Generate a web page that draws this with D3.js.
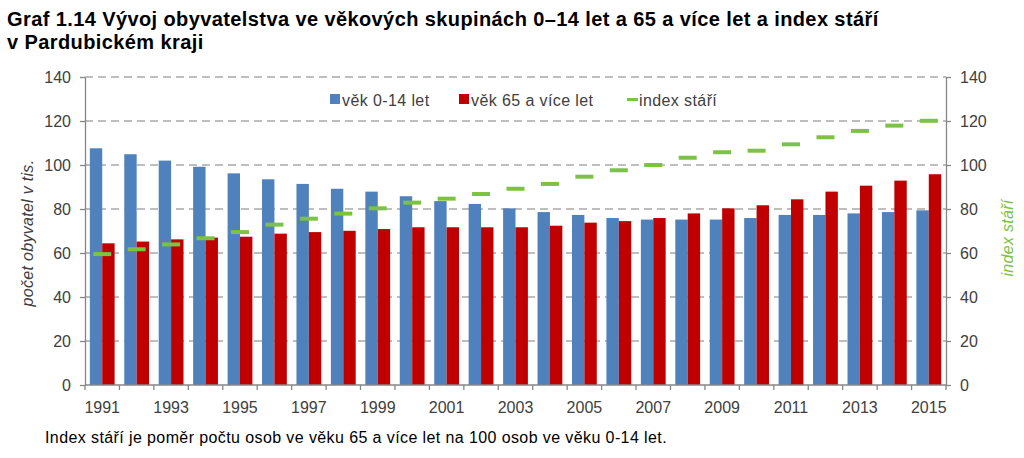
<!DOCTYPE html>
<html>
<head>
<meta charset="utf-8">
<script src="https://cdn.jsdelivr.net/npm/d3@7"></script>
<style>
  body { margin: 0; background: #fff; }
  svg { font-family: "Liberation Sans", Arial, sans-serif; }
</style>
</head>
<body>
<svg width="1024" height="458"></svg>
<script>
// Data
const years = d3.range(1991, 2016).map(String);
const kids = [107.6, 104.9, 102.0, 99.2, 96.2, 93.5, 91.4, 89.2, 87.9, 85.8, 83.6, 82.3, 80.3,
    78.6, 77.3, 75.9, 75.2, 75.2, 75.2, 75.9, 77.3, 77.3, 78.0, 78.6, 79.4];
const seniors = [64.4, 65.2, 66.2, 67.0, 67.4, 68.8, 69.5, 70.1, 70.9, 71.7, 71.7, 71.7, 71.7,
    72.4, 73.8, 74.5, 75.9, 78.0, 80.3, 81.7, 84.4, 87.9, 90.6, 92.9, 95.8];
const agingIndex = [59.5, 61.7, 63.9, 66.7, 69.5, 72.9, 75.6, 77.9, 80.3, 82.9, 84.7, 86.8, 89.2,
    91.4, 94.7, 97.6, 100.0, 103.3, 105.8, 106.5, 109.4, 112.6, 115.5, 117.9, 120.1];
const yTicks = [0, 20, 40, 60, 80, 100, 120, 140];

const blue = "#4f81bd", red = "#c00000", green = "#7cc243", grey = "#404040";

const svg = d3.select("svg");
const plotL = 85, plotR = 946, plotT = 77, plotB = 385;

const x = d3.scaleBand().domain(years).range([plotL, plotR]);
const y = d3.scaleLinear().domain([0, 140]).range([plotB, plotT]);
const y2 = d3.scaleLinear().domain([0, 140]).range([plotB, plotT]);

// Title
svg.append("text").attr("x", 7).attr("y", 26)
    .attr("font-size", 20).attr("font-weight", "bold").attr("fill", "#000")
    .attr("letter-spacing", 0.4)
    .text("Graf 1.14 Vývoj obyvatelstva ve věkových skupinách 0–14 let a 65 a více let a index stáří");
svg.append("text").attr("x", 7).attr("y", 49)
    .attr("font-size", 20).attr("font-weight", "bold").attr("fill", "#000")
    .attr("letter-spacing", 0.4)
    .text("v Pardubickém kraji");

// Gridlines
svg.append("g").selectAll("line").data(yTicks.filter(d => d > 0)).join("line")
    .attr("x1", plotL).attr("x2", plotR)
    .attr("y1", d => y(d)).attr("y2", d => y(d))
    .attr("stroke", "#7f7f7f").attr("stroke-width", 1.2)
    .attr("stroke-dasharray", "8,5");

// Bars
const bw = x.bandwidth() * 0.36;
const g = svg.append("g");
g.selectAll(".kids").data(kids).join("rect")
    .attr("x", (d, i) => x(years[i]) + x.bandwidth() / 2 - bw)
    .attr("y", d => y(d)).attr("width", bw).attr("height", d => plotB - y(d))
    .attr("fill", blue);
g.selectAll(".sen").data(seniors).join("rect")
    .attr("x", (d, i) => x(years[i]) + x.bandwidth() / 2)
    .attr("y", d => y(d)).attr("width", bw).attr("height", d => plotB - y(d))
    .attr("fill", red);

// Index markers
g.selectAll(".idx").data(agingIndex).join("rect")
    .attr("x", (d, i) => x(years[i]) + x.bandwidth() / 2 - 9)
    .attr("y", d => y2(d) - 2).attr("width", 18).attr("height", 4)
    .attr("fill", green);

// Axes
const axisStyle = sel => {
    sel.select(".domain").attr("stroke", "#868686").attr("stroke-width", 1.3);
    sel.selectAll(".tick line").attr("stroke", "#868686").attr("stroke-width", 1.3);
    sel.selectAll(".tick text").attr("fill", grey).attr("font-size", 16)
        .attr("font-family", "Liberation Sans, Arial, sans-serif");
};
svg.append("g").attr("transform", `translate(${plotL},0)`)
    .call(d3.axisLeft(y).tickValues(yTicks).tickSize(5).tickSizeOuter(0).tickPadding(9))
    .call(axisStyle);
svg.append("g").attr("transform", `translate(${plotR},0)`)
    .call(d3.axisRight(y2).tickValues(yTicks).tickSize(5).tickSizeOuter(0).tickPadding(9))
    .call(axisStyle);

// X axis: ticks between categories, labels every 2 years
const xg = svg.append("g").attr("transform", `translate(0,${plotB})`);
xg.append("line").attr("x1", plotL).attr("x2", plotR)
    .attr("stroke", "#868686").attr("stroke-width", 1.3);
xg.selectAll(".xt").data(years.concat("end")).join("line")
    .attr("x1", (d, i) => plotL + i * x.step()).attr("x2", (d, i) => plotL + i * x.step())
    .attr("y1", 0).attr("y2", 5)
    .attr("stroke", "#868686").attr("stroke-width", 1.3);
xg.selectAll("text").data(years.filter((d, i) => i % 2 === 0)).join("text")
    .attr("x", d => x(d) + x.bandwidth() / 2).attr("y", 28)
    .attr("text-anchor", "middle").attr("font-size", 16).attr("fill", grey)
    .text(d => d);

// Axis titles
svg.append("text")
    .attr("transform", `translate(33,233) rotate(-90)`)
    .attr("text-anchor", "middle").attr("font-size", 16).attr("font-style", "italic")
    .attr("letter-spacing", 0.3)
    .attr("fill", grey).text("počet obyvatel v tis.");
svg.append("text")
    .attr("transform", `translate(1013,238) rotate(-90)`)
    .attr("text-anchor", "middle").attr("font-size", 16).attr("font-style", "italic")
    .attr("letter-spacing", 0.3)
    .attr("fill", green).text("index stáří");

// Legend
const legend = [
    {label: "věk 0-14 let", color: blue, type: "box", x: 330},
    {label: "věk 65 a více let", color: red, type: "box", x: 459},
    {label: "index stáří", color: green, type: "dash", x: 627}
];
const lg = svg.append("g").attr("transform", "translate(0,100)");
legend.forEach(d => {
    if (d.type === "box") {
        lg.append("rect").attr("x", d.x).attr("y", -6).attr("width", 10).attr("height", 10).attr("fill", d.color);
    } else {
        lg.append("rect").attr("x", d.x).attr("y", -2).attr("width", 11).attr("height", 3).attr("fill", d.color);
    }
    lg.append("text").attr("x", d.x + 12).attr("y", 6)
        .attr("font-size", 16).attr("letter-spacing", 0.4)
        .attr("fill", grey).text(d.label);
});

// Footnote
svg.append("text").attr("x", 45).attr("y", 443)
    .attr("font-size", 16).attr("letter-spacing", 0.4).attr("fill", "#000")
    .text("Index stáří je poměr počtu osob ve věku 65 a více let na 100 osob ve věku 0-14 let.");
</script>
</body>
</html>
